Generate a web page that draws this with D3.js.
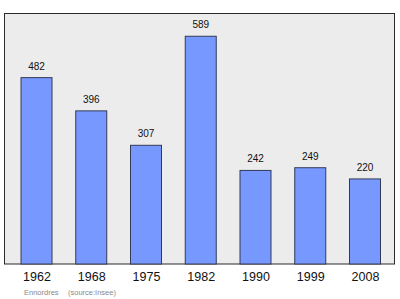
<!DOCTYPE html>
<html>
<head>
<meta charset="utf-8">
<script src="https://cdn.jsdelivr.net/npm/d3@7"></script>
<style>
  body { margin: 0; background: #fff; }
  text { font-family: "Liberation Sans", Arial, sans-serif; }
</style>
</head>
<body>
<div id="chart"></div>
<script>
// Dati della popolazione
const years = ["1962", "1968", "1975", "1982", "1990", "1999", "2008"];
const population = [482, 396, 307, 589, 242, 249, 220];
const commune = "Ennordres";
const source = "(source:Insee)";

const width = 400, height = 299;
const frame = { left: 4.5, top: 13.5, right: 394.5, bottom: 264 };

const svg = d3.select("#chart").append("svg")
    .attr("width", width)
    .attr("height", height);

// Sfondo del grafico
svg.append("rect")
    .attr("x", frame.left)
    .attr("y", frame.top)
    .attr("width", frame.right - frame.left)
    .attr("height", frame.bottom - frame.top)
    .attr("fill", "#ececec")
    .attr("stroke", "#2a2a2a")
    .attr("stroke-width", 1);

const x = d3.scalePoint().domain(years).range([36.5, 365]);
const y = d3.scaleLinear().domain([0, 600]).range([frame.bottom, frame.bottom - 232]);
const barWidth = 31;

const data = years.map((yr, i) => ({ year: yr, value: population[i] }));

svg.selectAll("rect.bar")
    .data(data)
    .enter().append("rect")
    .attr("class", "bar")
    .attr("x", d => x(d.year) - barWidth / 2)
    .attr("y", d => y(d.value))
    .attr("width", barWidth)
    .attr("height", d => y(0) - y(d.value))
    .attr("fill", "#7799ff")
    .attr("stroke", "#333a55")
    .attr("stroke-width", 1);

// Valori sopra le barre
svg.selectAll("text.value")
    .data(data)
    .enter().append("text")
    .attr("class", "value")
    .attr("x", d => x(d.year))
    .attr("y", d => y(d.value) - 8)
    .attr("text-anchor", "middle")
    .attr("font-size", "10px")
    .attr("fill", "#111")
    .text(d => d.value);

// Asse x senza linee
const xAxis = svg.append("g")
    .attr("transform", `translate(0,${frame.bottom})`)
    .call(d3.axisBottom(x).tickSize(0).tickPadding(8));
xAxis.select(".domain").remove();
xAxis.selectAll("text")
    .attr("font-size", "12.5px")
    .attr("font-family", "Liberation Sans, Arial, sans-serif")
    .attr("fill", "#111");

// Fonte
svg.append("text")
    .attr("x", 24)
    .attr("y", 295)
    .attr("font-size", "7.5px")
    .attr("fill", "#8a8a8a")
    .text(commune);
svg.append("text")
    .attr("x", 68)
    .attr("y", 295)
    .attr("font-size", "7.5px")
    .attr("fill", "#8a8a8a")
    .text(source);
</script>
</body>
</html>
